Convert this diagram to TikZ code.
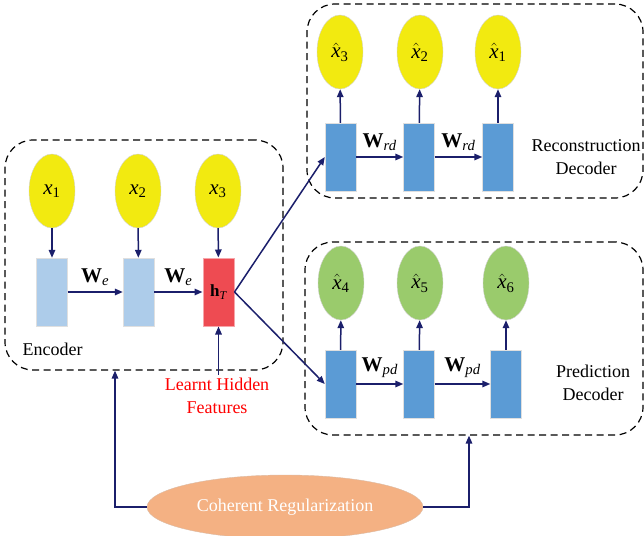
\documentclass[tikz,border=0pt]{standalone}
\usepackage{fontspec}
\setmainfont{Liberation Serif}
\usetikzlibrary{arrows.meta,shapes.geometric}
\definecolor{inyellow}{HTML}{F2EA10}
\definecolor{encblue}{HTML}{ADCCEA}
\definecolor{decblue}{HTML}{5B9BD5}
\definecolor{hidred}{HTML}{EE4B52}
\definecolor{predgreen}{HTML}{9ACB6C}
\definecolor{regorange}{HTML}{F4B183}
\definecolor{navy}{HTML}{1B1F6B}
\newcommand{\xin}[1]{\textit{x}\textsubscript{#1}}
\newcommand{\xout}[1]{$\hat{\mbox{\itshape x}}$\textsubscript{#1}}
\newcommand{\wmat}[1]{\textbf{W}\textsubscript{\itshape #1}}
\begin{document}
\begin{tikzpicture}[x=1pt,y=-1pt,
    inp/.style={ellipse,draw=gray!35,fill=inyellow,minimum width=46pt,minimum height=74pt,inner sep=0pt,font=\fontsize{21}{22}\selectfont},
    cell/.style={rectangle,draw=gray!25,minimum width=31pt,minimum height=68pt,inner sep=0pt},
    arr/.style={draw=navy,line width=1.5pt,-{Triangle[length=8pt,width=6.5pt]}},
    grp/.style={draw,dashed,dash pattern=on 7pt off 4.5pt,line width=1.2pt,rounded corners=28pt},
    wlab/.style={font=\fontsize{21}{22}\selectfont,above=2pt},
    lab/.style={font=\fontsize{18}{23}\selectfont,align=center}]
    \useasboundingbox (0,0) rectangle (644,535);

    % groups
    \node[grp,minimum width=278pt,minimum height=230pt] (enc) at (144,255) {};
    \node[grp,minimum width=336pt,minimum height=194pt] (rec) at (475,101) {};
    \node[grp,minimum width=338pt,minimum height=193pt] (pred) at (474,338.5) {};

    % encoder
    \node[inp] (x1) at (52,191) {\xin{1}};
    \node[inp] (x2) at (138,191) {\xin{2}};
    \node[inp] (x3) at (218,191) {\xin{3}};
    \node[cell,fill=encblue] (e1) at (52,292) {};
    \node[cell,fill=encblue] (e2) at (138.5,292) {};
    \node[cell,fill=hidred,draw=hidred!50,line width=1pt] (hT) at (218.5,292) {\fontsize{17}{18}\selectfont\textbf{h}\textsubscript{\itshape T}};
    \foreach \a/\b in {x1/e1,x2/e2,x3/hT} \draw[arr] (\a) -- (\b);
    \draw[arr] (e1) -- node[wlab] {\wmat{e}} (e2);
    \draw[arr] (e2) -- node[wlab] {\wmat{e}} (hT);
    \node[lab,anchor=west] (enclab) at (19,349) {Encoder};

    % reconstruction decoder
    \node[inp] (rx3) at (340,52) {\xout{3}};
    \node[inp] (rx2) at (420,52) {\xout{2}};
    \node[inp] (rx1) at (498,52) {\xout{1}};
    \node[cell,fill=decblue] (r1) at (340.5,157) {};
    \node[cell,fill=decblue] (r2) at (419,157) {};
    \node[cell,fill=decblue] (r3) at (498,157) {};
    \foreach \a/\b in {r1/rx3,r2/rx2,r3/rx1} \draw[arr] (\a) -- (\b);
    \draw[arr] (r1) -- node[wlab] {\wmat{rd}} (r2);
    \draw[arr] (r2) -- node[wlab] {\wmat{rd}} (r3);
    \node[lab] (reclab) at (586,157) {Reconstruction\\Decoder};

    % prediction decoder
    \node[inp,fill=predgreen] (px4) at (341,283) {\xout{4}};
    \node[inp,fill=predgreen] (px5) at (420,283) {\xout{5}};
    \node[inp,fill=predgreen] (px6) at (506,283) {\xout{6}};
    \node[cell,fill=decblue] (p1) at (340.5,384) {};
    \node[cell,fill=decblue] (p2) at (419,384) {};
    \node[cell,fill=decblue] (p3) at (506,384) {};
    \foreach \a/\b in {p1/px4,p2/px5,p3/px6} \draw[arr] (\a) -- (\b);
    \draw[arr] (p1) -- node[wlab] {\wmat{pd}} (p2);
    \draw[arr] (p2) -- node[wlab] {\wmat{pd}} (p3);
    \node[lab] (predlab) at (593,383) {Prediction\\Decoder};

    % hidden features
    \draw[arr] (hT.east) -- (r1.west);
    \draw[arr] (hT.east) -- (p1.west);
    \node[lab,text=red] (lhf) at (217,396) {Learnt Hidden\\Features};
    \draw[arr] (hT.south |- lhf.north) -- (hT.south);

    % regularization
    \node[ellipse,fill=regorange,draw=regorange!80!black!60,minimum width=276pt,minimum height=64pt,inner sep=0pt,text=white,font=\fontsize{18}{20}\selectfont] (reg) at (285,507) {Coherent Regularization};
    \draw[arr] (reg.west) -| ([xshift=-29pt]enc.south);
    \draw[arr] (reg.east) -| ([xshift=-5pt]pred.south);
\end{tikzpicture}
\end{document}
